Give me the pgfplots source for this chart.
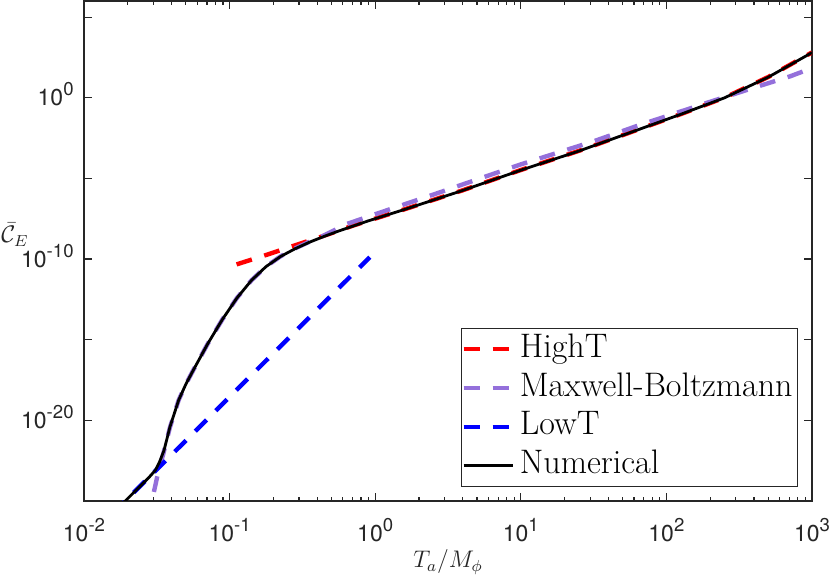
\documentclass[border=0pt]{standalone}
\usepackage{fontspec}
\usepackage{pgfplots}
\pgfplotsset{compat=1.18}
\newfontfamily\hv{TeX Gyre Heros}
\definecolor{axgray}{rgb}{0.15,0.15,0.15}
\definecolor{mbpurple}{rgb}{0.58,0.44,0.86}
\newcommand{\tl}[1]{{\hv\fontsize{11.5}{13}\selectfont 10\raisebox{5pt}{\fontsize{9.3}{10}\selectfont #1}}}
\begin{document}
\begin{tikzpicture}
\begin{loglogaxis}[
  scale only axis,
  width=364pt, height=250pt,
  xmin=1e-2, xmax=1e3,
  ymin=1e-25, ymax=1e6,
  xtick={1e-2,1e-1,1,1e1,1e2,1e3},
  xticklabels={\tl{-2},\tl{-1},\tl{0},\tl{1},\tl{2},\tl{3}},
  minor xtick={0.02,0.03,0.04,0.05,0.06,0.07,0.08,0.09,0.2,0.3,0.4,0.5,0.6,0.7,0.8,0.9,2,3,4,5,6,7,8,9,20,30,40,50,60,70,80,90,200,300,400,500,600,700,800,900},
  ytick={1e-25,1e-20,1e-15,1e-10,1e-5,1,1e5},
  yticklabels={,\tl{-20},,\tl{-10},,\tl{0},},
  yminorticks=false,
  major tick length=4pt,
  minor tick length=2.2pt,
  tick align=inside,
  axis line style={axgray, line width=0.6pt},
  every tick/.style={axgray, line width=0.6pt},
  xticklabel style={anchor=base, inner sep=0pt, yshift=-20.3pt, text=axgray},
  yticklabel style={anchor=base east, inner sep=0pt, xshift=-5pt, yshift=-4.1pt, text=axgray},
  xlabel={$T_a/M_\phi$},
  ylabel={$\bar{\mathcal{C}}_E$},
  every axis x label/.style={at={(rel axis cs:0.5,0)}, anchor=base, yshift=-33.5pt, inner sep=0pt, font=\fontsize{11.7}{13}\selectfont, text=axgray},
  every axis y label/.style={at={(rel axis cs:0,0)}, anchor=base west, xshift=-41.5pt, yshift=129pt, inner sep=0pt, font=\fontsize{11.7}{13}\selectfont, text=axgray},
  legend cell align=left,
  legend image code/.code={\draw[#1] (0pt,0pt) -- (24.5pt,0pt);},
  legend style={at={(rel axis cs:1,0)}, anchor=south east, xshift=-7pt, yshift=7pt,
    draw=axgray, line width=0.5pt, inner xsep=0pt, inner ysep=2.4pt, row sep=3.4pt,
    font=\fontsize{17}{20}\selectfont,
    nodes={inner xsep=2.5pt, inner ysep=0pt, text height=12pt, text depth=4pt}},
]
% HighT
\addplot[red, line width=2.2pt, dash pattern=on 8pt off 6.5pt] coordinates {
(0.1117,4.677e-11) (0.1778,1.778e-10) (0.2818,7.079e-10) (0.4467,2.818e-9)
(0.7079,1.202e-8) (1.585,1.202e-7) (3.981,1.820e-6) (10,3.311e-5)
(25.12,5.129e-4) (63.10,1.023e-2) (125.9,9.772e-2) (251.2,1.023) (501.2,19.50) (1000,645.7)
};
\addlegendentry{HighT}
% Maxwell-Boltzmann
\addplot[mbpurple, line width=2.2pt, dash pattern=on 8pt off 6.5pt] coordinates {
(2.754e-2,6.310e-27) (2.924e-2,1e-25) (3.069e-2,6.918e-25) (3.236e-2,6.310e-24)
(3.499e-2,7.943e-23) (3.890e-2,3.548e-21) (4.467e-2,1.778e-19) (5.012e-2,1.778e-18)
(5.623e-2,1.259e-17) (7.079e-2,5.623e-16) (8.913e-2,1.778e-14) (0.1122,3.802e-13)
(0.1413,4.786e-12) (0.1778,3.388e-11) (0.2239,1.479e-10) (0.2818,4.571e-10)
(0.3548,1.202e-9) (0.4467,2.951e-9) (0.6310,1.445e-8) (1,6.026e-8) (2.512,1e-6) (10,7.413e-5)
(31.62,1.995e-3) (63.10,1.820e-2) (199.5,0.5623) (398.1,4.169) (707.9,21.38) (1000,69.18)
};
\addlegendentry{Maxwell-Boltzmann}
% LowT
\addplot[blue, line width=2.2pt, dash pattern=on 8pt off 6.5pt] coordinates {
(1.585e-2,1.778e-26) (0.9183,1.318e-10)
};
\addlegendentry{LowT}
% Numerical
\addplot[black, line width=1.4pt] coordinates {
(1.778e-2,5.012e-26) (2.239e-2,3.981e-25) (2.818e-2,3.162e-24) (3.090e-2,7.943e-24)
(3.311e-2,2.818e-23) (3.548e-2,1.413e-22) (3.890e-2,3.802e-21) (4.467e-2,1.778e-19)
(5.012e-2,1.778e-18) (5.623e-2,1.259e-17) (7.079e-2,5.623e-16) (8.913e-2,1.778e-14)
(0.1122,3.802e-13) (0.1413,4.786e-12) (0.1778,3.388e-11) (0.2239,1.445e-10)
(0.2818,4.365e-10) (0.3548,1.122e-9) (0.4467,2.570e-9) (0.5623,5.495e-9)
(0.7079,1.122e-8) (0.8913,2.291e-8) (1.585,1.175e-7) (3.981,1.778e-6)
(10,3.236e-5) (25.12,5.012e-4) (63.10,1e-2) (125.9,9.550e-2) (251.2,1) (501.2,19.05) (1000,631.0)
};
\addlegendentry{Numerical}
\end{loglogaxis}
\pgfresetboundingbox
\path ([xshift=-42pt,yshift=-39pt]current axis.south west) rectangle ([xshift=9pt,yshift=0.5pt]current axis.north east);
\end{tikzpicture}
\end{document}
